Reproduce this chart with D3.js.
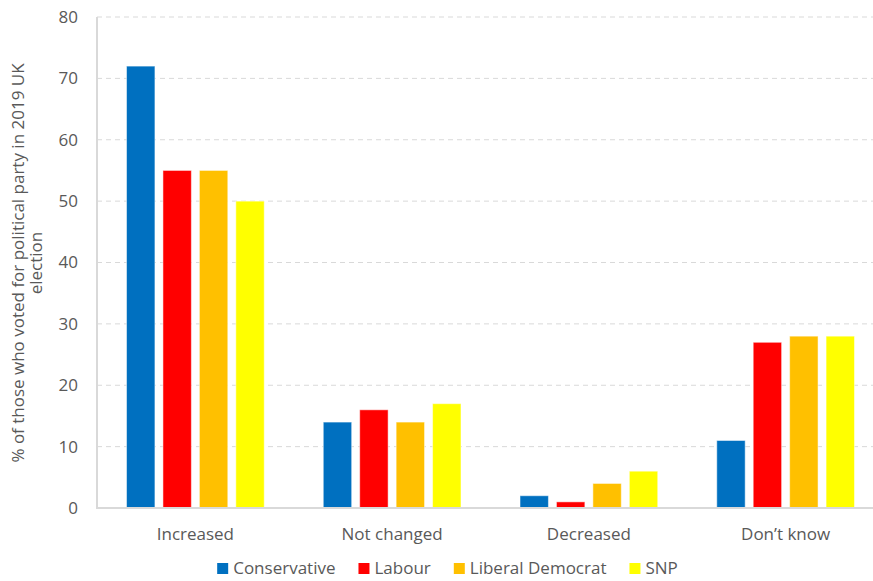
<!DOCTYPE html>
<html>
<head>
<meta charset="utf-8">
<script src="https://cdn.jsdelivr.net/npm/d3@7"></script>
<style>
  html, body { margin: 0; padding: 0; background: #fff; }
  svg { display: block; font-family: "Open Sans", "Noto Sans", sans-serif; }
</style>
</head>
<body>
<script>
// chart values
const categories = ['Increased', 'Not changed', 'Decreased', 'Don\u2019t know']
const series = ['Conservative', 'Labour', 'Liberal Democrat', 'SNP']
const colors = ['#0070C0', '#FF0000', '#FFC000', '#FFFF00']
const values = {
  'Conservative': [72, 14, 2, 11],
  'Labour': [55, 16, 1, 27],
  'Liberal Democrat': [55, 14, 4, 28],
  'SNP': [50, 17, 6, 28],
}
const yTicks = [0, 10, 20, 30, 40, 50, 60, 70, 80]
const yTitle = ['% of those who voted for political party in 2019 UK', 'election']

const width = 873
const height = 581
const plotLeft = 97
const plotRight = 884
const plotTop = 17
const plotBottom = 508
const textColor = '#595959'
const fontSize = '17px'

var svg = d3.select('body')
  .append('svg')
  .attr('width', width)
  .attr('height', height)

var x0 = d3.scaleBand()
  .domain(categories)
  .range([plotLeft, plotRight])
  .paddingInner(0.3)
  .paddingOuter(0.15)

var x1 = d3.scaleBand()
  .domain(series)
  .range([0, x0.bandwidth()])
  .paddingInner(0.22)

var y = d3.scaleLinear()
  .domain([0, 80])
  .range([plotBottom, plotTop])

// dashed gridlines
svg.append('g')
  .selectAll('line')
  .data(yTicks.filter(d => d > 0))
  .join('line')
  .attr('x1', plotLeft)
  .attr('x2', width)
  .attr('y1', d => y(d))
  .attr('y2', d => y(d))
  .attr('stroke', '#d9d9d9')
  .attr('stroke-width', 1)
  .attr('stroke-dasharray', '5,4')

// bars
svg.append('g')
  .selectAll('g')
  .data(categories)
  .join('g')
  .attr('transform', d => `translate(${x0(d)},0)`)
  .selectAll('rect')
  .data((c, i) => series.map((s, j) => ({ s: s, v: values[s][i], color: colors[j] })))
  .join('rect')
  .attr('x', d => x1(d.s))
  .attr('width', x1.bandwidth())
  .attr('y', d => y(d.v))
  .attr('height', d => y(0) - y(d.v))
  .attr('fill', d => d.color)
  .attr('stroke', '#fff')
  .attr('stroke-opacity', 0.5)
  .attr('stroke-width', 1)

// axes lines
svg.append('line')
  .attr('x1', plotLeft).attr('x2', plotLeft)
  .attr('y1', plotTop).attr('y2', plotBottom)
  .attr('stroke', '#d9d9d9').attr('stroke-width', 2)
svg.append('line')
  .attr('x1', plotLeft - 1).attr('x2', width)
  .attr('y1', plotBottom).attr('y2', plotBottom)
  .attr('stroke', '#d9d9d9').attr('stroke-width', 2)

// y tick labels
svg.append('g')
  .selectAll('text')
  .data(yTicks)
  .join('text')
  .attr('x', 78)
  .attr('y', d => y(d))
  .attr('dy', '0.35em')
  .attr('text-anchor', 'end')
  .attr('fill', textColor)
  .style('font-size', fontSize)
  .text(d => d)

// category labels
svg.append('g')
  .selectAll('text')
  .data(categories)
  .join('text')
  .attr('x', d => x0(d) + x0.bandwidth() / 2)
  .attr('y', 540)
  .attr('text-anchor', 'middle')
  .attr('fill', textColor)
  .style('font-size', fontSize)
  .text(d => d)

// y axis title
svg.append('text')
  .attr('transform', 'translate(24,263) rotate(-90)')
  .attr('text-anchor', 'middle')
  .attr('fill', textColor)
  .style('font-size', fontSize)
  .selectAll('tspan')
  .data(yTitle)
  .join('tspan')
  .attr('x', 0)
  .attr('dy', (d, i) => i === 0 ? 0 : 18)
  .text(d => d)

// legend
var legend = svg.append('g')
var items = legend.selectAll('g')
  .data(series)
  .join('g')
items.append('rect')
  .attr('width', 11)
  .attr('height', 11)
  .attr('y', -11)
  .attr('fill', (d, i) => colors[i])
items.append('text')
  .attr('x', 16)
  .attr('fill', textColor)
  .style('font-size', fontSize)
  .text(d => d)

var pos = 0
items.each(function () {
  var w = d3.select(this).select('text').node().getComputedTextLength()
  d3.select(this).attr('transform', `translate(${pos},0)`)
  pos += 16 + w + 23
})
var total = pos - 23
legend.attr('transform', `translate(${447.5 - total / 2},574)`)
</script>
</body>
</html>
